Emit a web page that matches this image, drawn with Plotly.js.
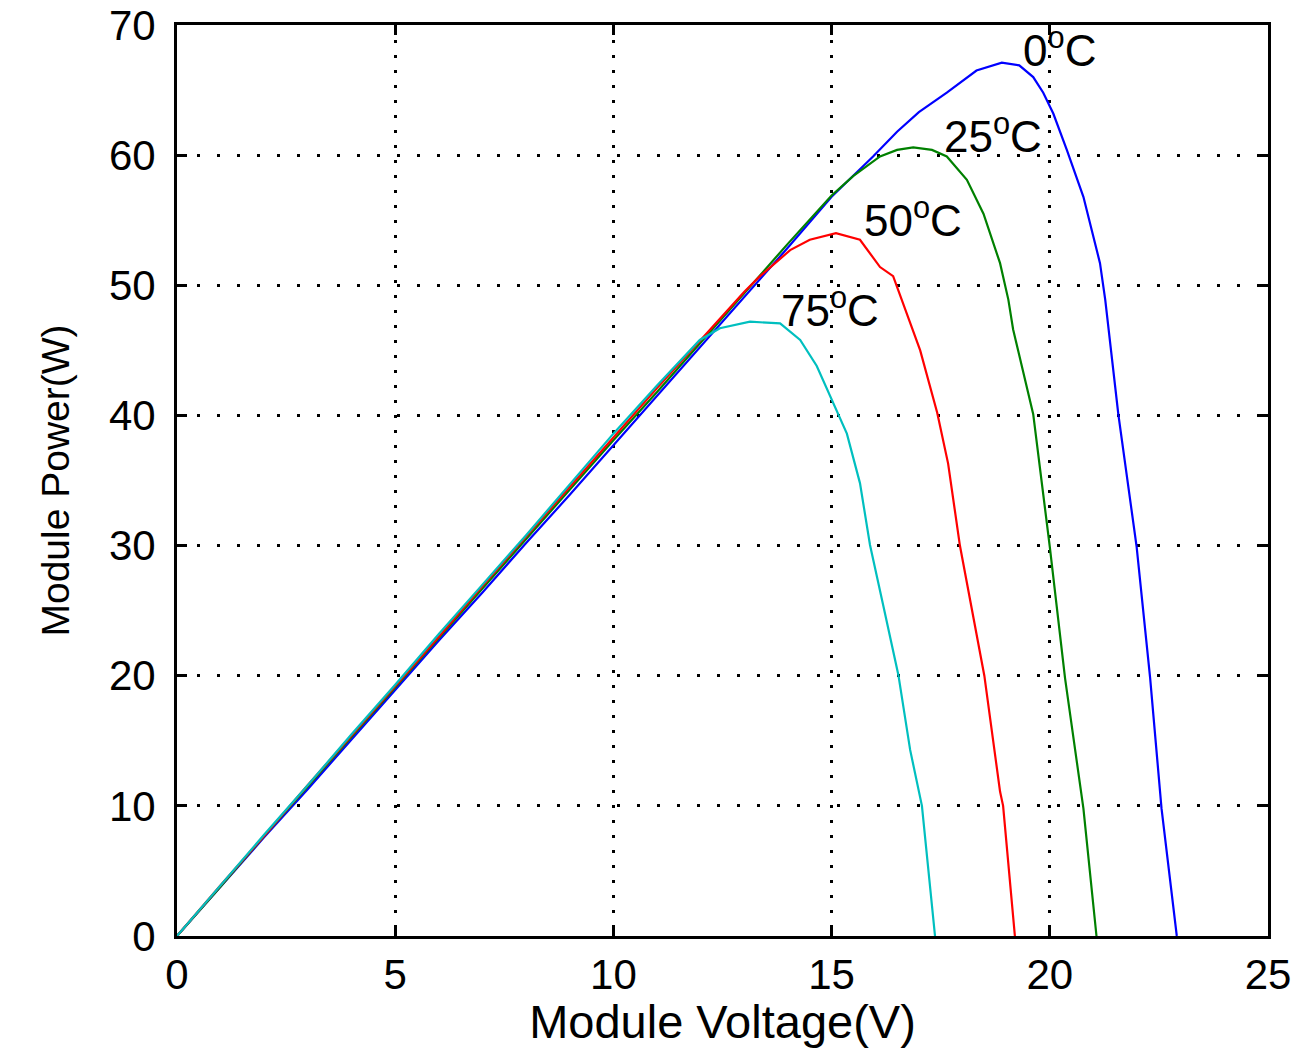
<!DOCTYPE html>
<html>
<head>
<meta charset="utf-8">
<script src="https://cdn.plot.ly/plotly-3.0.1.min.js"></script>
<style>html,body{margin:0;padding:0;background:#fff;}#chart{width:1299px;height:1048px;}</style>
</head>
<body>
<div id="chart"></div>
<script>
// 0 °C curve
const v0 = [0, 1, 2, 3, 4, 5, 6, 7, 8, 9, 10, 11, 12, 13, 14, 15, 15.95, 16.5, 17.0, 17.64, 18.32, 18.9, 19.3, 19.62, 19.85, 20.08, 20.39, 20.77, 21.15, 21.27, 21.57, 21.99, 22.3, 22.56, 22.91];
const p0 = [0, 3.8, 7.6, 11.3, 15.1, 18.9, 22.7, 26.4, 30.2, 33.9, 37.7, 41.5, 45.3, 49.1, 52.9, 56.8, 59.9, 61.8, 63.3, 64.8, 66.5, 67.1, 66.9, 66.0, 64.8, 63.2, 60.4, 56.8, 51.7, 48.9, 40.1, 29.9, 19.8, 9.8, 0];
// 25 °C curve
const v25 = [0, 1, 2, 3, 4, 5, 6, 7, 8, 9, 10, 11, 12, 13, 14, 15, 15.5, 16.11, 16.5, 16.87, 17.3, 17.64, 18.1, 18.48, 18.86, 19.05, 19.16, 19.62, 20.0, 20.35, 20.77, 21.07];
const p25 = [0, 3.8, 7.7, 11.5, 15.3, 19.1, 22.9, 26.7, 30.5, 34.3, 38.1, 41.8, 45.6, 49.4, 53.2, 56.9, 58.4, 59.9, 60.4, 60.6, 60.4, 59.9, 58.1, 55.5, 51.7, 48.9, 46.6, 40.1, 29.9, 19.8, 9.8, 0];
// 50 °C curve
const v50 = [0, 1, 2, 3, 4, 5, 6, 7, 8, 9, 10, 11, 12, 13, 13.36, 14.05, 14.5, 15.1, 15.65, 16.11, 16.41, 16.64, 16.87, 17.03, 17.42, 17.67, 17.94, 18.5, 18.86, 18.93, 19.2];
const p50 = [0, 3.9, 7.7, 11.6, 15.4, 19.2, 23.0, 26.9, 30.7, 34.5, 38.3, 42.1, 45.8, 49.5, 50.7, 52.7, 53.5, 54.0, 53.5, 51.4, 50.7, 48.6, 46.6, 45.0, 40.2, 36.3, 30.0, 20.0, 11.1, 10.0, 0];
// 75 °C curve
const v75 = [0, 1, 2, 3, 4, 5, 6, 7, 8, 9, 10, 11, 11.98, 12.44, 13.13, 13.82, 14.28, 14.66, 14.94, 15.35, 15.65, 15.88, 16.19, 16.53, 16.8, 17.07, 17.37];
const p75 = [0, 3.9, 7.8, 11.6, 15.5, 19.3, 23.2, 27.0, 30.8, 34.7, 38.6, 42.3, 45.8, 46.7, 47.2, 47.07, 45.8, 43.8, 41.7, 38.6, 34.8, 30.05, 25.3, 20.06, 14.3, 10.0, 0];

const seriesNames = ["0°C", "25°C", "50°C", "75°C"];
const labelText = ["0<sup>o</sup>C", "25<sup>o</sup>C", "50<sup>o</sup>C", "75<sup>o</sup>C"];
const labelX = [20.23, 18.7, 16.87, 14.96];
const labelY = [68.25, 61.7, 55.2, 48.3];
const xTicks = [0, 5, 10, 15, 20, 25];
const yTicks = [0, 10, 20, 30, 40, 50, 60, 70];

const colors = ["#0000ff", "#008000", "#ff0000", "#00bfbf"];
const xs = [v0, v25, v50, v75];
const ys = [p0, p25, p50, p75];

const traces = xs.map((x, i) => ({
  x: x, y: ys[i], type: "scatter", mode: "lines", name: seriesNames[i],
  line: {color: colors[i], width: 2.2}
}));

const font = "Liberation Sans, Arial, sans-serif";
const annotations = labelText.map((t, i) => ({
  x: labelX[i], y: labelY[i], xref: "x", yref: "y", text: t, showarrow: false,
  xanchor: "center", yanchor: "middle",
  font: {family: font, size: 44, color: "#000"}
}));

const layout = {
  width: 1299, height: 1048,
  margin: {l: 177, r: 31, t: 25, b: 112},
  paper_bgcolor: "#fff", plot_bgcolor: "#fff",
  showlegend: false,
  annotations: annotations,
  xaxis: {
    range: [0, 25], tickvals: xTicks, ticktext: xTicks.map(String),
    ticks: "inside", ticklen: 10, tickwidth: 3, tickcolor: "#000",
    showline: true, linewidth: 3, linecolor: "#000", mirror: "ticks",
    showgrid: true, gridcolor: "#000", gridwidth: 3, griddash: "3px,12px",
    zeroline: false, ticklabelstandoff: 0,
    tickfont: {family: font, size: 42, color: "#000"},
    title: {text: "Module Voltage(V)", font: {family: font, size: 47, color: "#000"}, standoff: 4}
  },
  yaxis: {
    range: [0, 70], tickvals: yTicks, ticktext: yTicks.map(String),
    ticks: "inside", ticklen: 10, tickwidth: 3, tickcolor: "#000",
    showline: true, linewidth: 3, linecolor: "#000", mirror: "ticks",
    showgrid: true, gridcolor: "#000", gridwidth: 3, griddash: "3px,17px",
    zeroline: false, ticklabelstandoff: 10,
    tickfont: {family: font, size: 42, color: "#000"},
    title: {text: "Module Power(W)", font: {family: font, size: 39, color: "#000"}, standoff: 28}
  }
};

Plotly.newPlot("chart", traces, layout, {staticPlot: true, displayModeBar: false});
</script>
</body>
</html>
